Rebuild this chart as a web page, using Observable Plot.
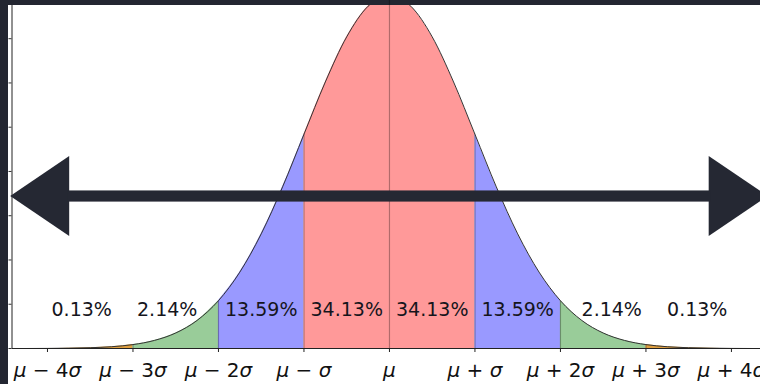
<!DOCTYPE html>
<html>
<head>
<meta charset="utf-8">
<script src="https://cdn.jsdelivr.net/npm/d3@7"></script>
<script src="https://cdn.jsdelivr.net/npm/@observablehq/plot@0.6"></script>
<style>
  html, body { margin: 0; padding: 0; background: #232631; overflow: hidden; }
  #wrap { position: relative; width: 760px; height: 384px; overflow: hidden; background: #232631; }
  #chart { position: absolute; left: 8px; top: 5px; }
</style>
</head>
<body>
<div id="wrap"><div id="chart"></div></div>
<script>
// Curve (x in σ units, density)
const sigmaSteps = [-4.5,-4.25,-4,-3.75,-3.5,-3.25,-3,-2.75,-2.5,-2.25,-2,-1.75,-1.5,-1.25,-1,-0.75,-0.5,-0.25,0,0.25,0.5,0.75,1,1.25,1.5,1.75,2,2.25,2.5,2.75,3,3.25,3.5,3.75,4,4.25,4.5];
const density = [0.0000,0.0000,0.0001,0.0004,0.0009,0.0020,0.0044,0.0091,0.0175,0.0317,0.0540,0.0863,0.1295,0.1826,0.2420,0.3011,0.3521,0.3867,0.3989,0.3867,0.3521,0.3011,0.2420,0.1826,0.1295,0.0863,0.0540,0.0317,0.0175,0.0091,0.0044,0.0020,0.0009,0.0004,0.0001,0.0000,0.0000];

// Shaded bands (σ units)
const bandStart = [-4,-3,-2,-1,0,1,2,3];
const bandEnd   = [-3,-2,-1,0,1,2,3,4];
const bandColors = ["#e0a040","#99cc99","#9999ff","#ff9999","#ff9999","#9999ff","#99cc99","#e0a040"];

// Percent labels
const pctLabels = ["0.13%","2.14%","13.59%","34.13%","34.13%","13.59%","2.14%","0.13%"];
const pctX = [-3.6,-2.6,-1.5,-0.5,0.5,1.5,2.6,3.6];
const pctY = 0.044;

// Boundary lines
const boundaries = [-3,-2,-1,0,1,2,3];

// x tick values & labels
const xTicks = [-4,-3,-2,-1,0,1,2,3,4];
const xTickLabels = ["μ − 4σ","μ − 3σ","μ − 2σ","μ − σ","μ","μ + σ","μ + 2σ","μ + 3σ","μ + 4σ"];
const yTicks = [0,0.05,0.10,0.15,0.20,0.25,0.30,0.35];

// Double-headed arrow (data units)
const arrowCenter = 0.1717;
const arrowShaftHalf = 0.0063;
const arrowHeadHalf = 0.0452;
const arrowTip = 4.43;
const arrowHeadBase = 3.74;

const xDomain = [-4.415, 4.34];
const yDomain = [0, 0.3875];

const rows = sigmaSteps.map((x, i) => ({x, pdf: density[i]}));
const pdfAt = x => rows.find(r => Math.abs(r.x - x) < 1e-9).pdf;

const bandMarks = bandStart.map((a, i) =>
  Plot.areaY(rows.filter(r => r.x >= a - 1e-9 && r.x <= bandEnd[i] + 1e-9), {
    x: "x", y: "pdf", fill: bandColors[i], curve: "monotone-x", clip: true
  })
);

const boundaryRows = boundaries.map(b => ({x: b, pdf: pdfAt(b)}));

const leftHead = [
  {x: -arrowTip, y1: arrowCenter, y2: arrowCenter},
  {x: -arrowHeadBase, y1: arrowCenter - arrowHeadHalf, y2: arrowCenter + arrowHeadHalf}
];
const rightHead = [
  {x: arrowHeadBase, y1: arrowCenter - arrowHeadHalf, y2: arrowCenter + arrowHeadHalf},
  {x: arrowTip, y1: arrowCenter, y2: arrowCenter}
];
const shaft = [{x1: -arrowHeadBase - 0.02, x2: arrowHeadBase + 0.02, y1: arrowCenter - arrowShaftHalf, y2: arrowCenter + arrowShaftHalf}];

const labelMap = new Map(xTicks.map((t, i) => [t, xTickLabels[i]]));
const pctRows = pctLabels.map((t, i) => ({x: pctX[i], y: pctY, t}));

const chart = Plot.plot({
  width: 752,
  height: 379,
  marginLeft: 3.5,
  marginRight: 0,
  marginTop: 0,
  marginBottom: 36,
  style: {background: "white", fontFamily: "DejaVu Sans", overflow: "visible"},
  x: {domain: xDomain},
  y: {domain: yDomain},
  marks: [
    ...bandMarks,
    Plot.ruleX(boundaryRows, {x: "x", y1: 0, y2: "pdf", stroke: "#000", strokeOpacity: 0.3, strokeWidth: 1.2}),
    Plot.line(rows, {x: "x", y: "pdf", stroke: "#333", strokeWidth: 1, curve: "monotone-x", clip: true}),
    Plot.text(pctRows, {x: "x", y: "y", text: "t", fontSize: 19, fill: "#15151c"}),
    Plot.ruleY([0], {stroke: "#222", strokeWidth: 1}),
    Plot.ruleX([xDomain[0]], {stroke: "#222", strokeWidth: 1}),
    Plot.axisX({ticks: xTicks, tickFormat: d => labelMap.get(d), tickSize: 4, tickPadding: 10, fontSize: 20, stroke: "#222", fill: "#111", label: null}),
    Plot.axisY({ticks: yTicks, tickFormat: () => "", tickSize: 3, stroke: "#333", label: null}),
    Plot.areaY(leftHead, {x: "x", y1: "y1", y2: "y2", fill: "#252833", curve: "linear"}),
    Plot.areaY(rightHead, {x: "x", y1: "y1", y2: "y2", fill: "#252833", curve: "linear"}),
    Plot.rect(shaft, {x1: "x1", x2: "x2", y1: "y1", y2: "y2", fill: "#252833"})
  ]
});

document.getElementById("chart").appendChild(chart);

// italicize μ and σ in tick labels (math style)
d3.select(chart).selectAll("g[aria-label='x-axis tick label'] text").each(function() {
  const el = d3.select(this);
  const s = el.text();
  el.text(null);
  for (const ch of s) {
    const ts = el.append("tspan").text(ch);
    if (ch === "μ" || ch === "σ") ts.attr("font-style", "italic");
  }
});
</script>
</body>
</html>
